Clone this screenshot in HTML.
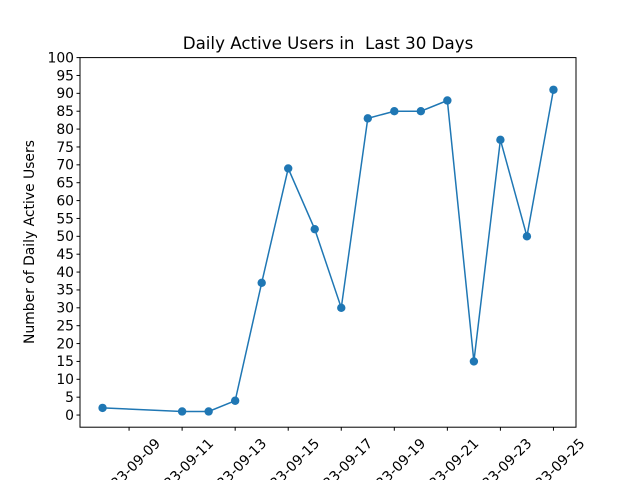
<!DOCTYPE html>
<html><head><meta charset="utf-8"><style>body{margin:0;background:#fff}svg{display:block;font-family:"DejaVu Sans","Liberation Sans",sans-serif}</style></head>
<body>
<svg id="chart" width="640" height="480">
<rect width="640" height="480" fill="#fff"/>
<text x="328" y="49" font-size="16.7" text-anchor="middle" xml:space="preserve" style="white-space:pre">Daily Active Users in  Last 30 Days</text>
<text transform="translate(34,242) rotate(-90)" font-size="13.9" text-anchor="middle">Number of Daily Active Users</text>
<g id="axes"></g>
<rect x="80" y="57.6" width="496" height="369.6" fill="none" stroke="#000" stroke-width="1"/>
</svg>
<script>
const dates = [0,3,4,5,6,7,8,9,10,11,12,13,14,15,16,17]; // days after 2023-09-08
const values = [2,1,1,4,37,69,52,30,83,85,85,88,15,77,50,91];
const xTickDays = [1,3,5,7,9,11,13,15,17];
const xTickLabels = ["2023-09-09","2023-09-11","2023-09-13","2023-09-15","2023-09-17","2023-09-19","2023-09-21","2023-09-23","2023-09-25"];
const yTicks = [0,5,10,15,20,25,30,35,40,45,50,55,60,65,70,75,80,85,90,95,100];

const L=80,R=576,T=57.6,B=427.2;
const xmin=-0.85,xmax=17.85,ymin=-3.4,ymax=100;
const sx=d=>L+(d-xmin)/(xmax-xmin)*(R-L);
const sy=v=>B-(v-ymin)/(ymax-ymin)*(B-T);
const NS="http://www.w3.org/2000/svg";
const g=document.getElementById('axes');
function mk(tag,attrs){const e=document.createElementNS(NS,tag);for(const k in attrs)e.setAttribute(k,attrs[k]);g.appendChild(e);return e;}
yTicks.forEach(v=>{
  const y=sy(v);
  const t=mk('line',{x1:L-3.5,x2:L,y1:y,y2:y,stroke:'#000'});
  
  
  const lb=mk('text',{x:L-6,y:y+4.8,'font-size':13.9,'text-anchor':'end'});
  lb.textContent=v;
  
  
});
xTickDays.forEach((d,i)=>{
  const x=sx(d);
  const t=mk('line',{x1:x,x2:x,y1:B,y2:B+3.5,stroke:'#000'});
  
  
  const lb=mk('text',{x:0,y:0,'font-size':13.9,'text-anchor':'middle',transform:`translate(${x},${B+42}) rotate(-45) translate(0,5)`});
  lb.textContent=xTickLabels[i];
  
  
});
const pts=dates.map((d,i)=>sx(d)+','+sy(values[i])).join(' ');
const line=mk('polyline',{points:pts,fill:'none',stroke:'#1f77b4','stroke-width':1.5});


dates.forEach((d,i)=>{
  const c=mk('circle',{cx:sx(d),cy:sy(values[i]),r:4.2,fill:'#1f77b4'});
  
  
});
</script>
</body></html>
